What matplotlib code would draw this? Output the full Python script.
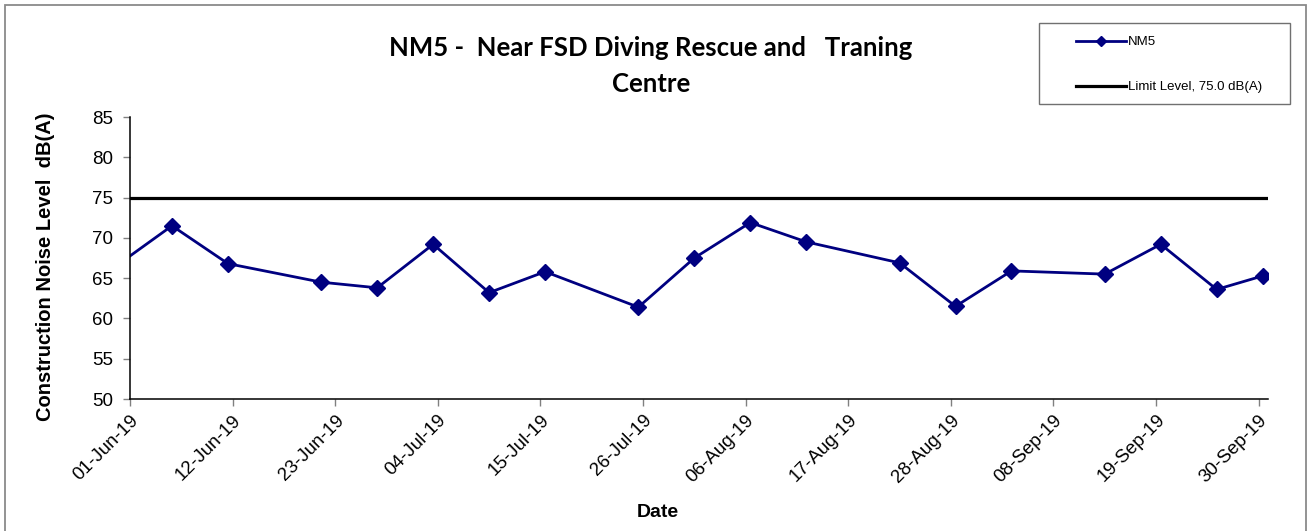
#!/usr/bin/env python3

import numpy as np
import matplotlib
matplotlib.use("Agg")
import matplotlib.pyplot as plt
import matplotlib.dates as mdates
from matplotlib.patches import Rectangle

# measurement times and levels for NM5 (first point is before the axis start)
dates = ["2019-05-30 12:00", "2019-06-05 12:00", "2019-06-11 12:00", "2019-06-21 12:00",
         "2019-06-27 12:00", "2019-07-03 12:00", "2019-07-09 12:00", "2019-07-15 12:00",
         "2019-07-25 12:00", "2019-07-31 12:00", "2019-08-06 12:00", "2019-08-12 12:00",
         "2019-08-22 12:00", "2019-08-28 12:00", "2019-09-03 12:00", "2019-09-13 12:00",
         "2019-09-19 12:00", "2019-09-25 12:00", "2019-09-30 12:00"]
nm5 = [66.5, 71.5, 66.8, 64.5, 63.8, 69.2, 63.2, 65.8, 61.4, 67.5, 71.9,
       69.5, 66.9, 61.5, 65.9, 65.5, 69.2, 63.6, 65.3]
limit_level = 75.0
tick_dates = ["2019-06-01", "2019-06-12", "2019-06-23", "2019-07-04", "2019-07-15",
              "2019-07-26", "2019-08-06", "2019-08-17", "2019-08-28", "2019-09-08",
              "2019-09-19", "2019-09-30"]
y_ticks = [50, 55, 60, 65, 70, 75, 80, 85]


def main():
    W, H = 1307, 531
    fig = plt.figure(figsize=(W / 100, H / 100), dpi=100)
    plt.rcParams['font.family'] = ['Liberation Sans', 'DejaVu Sans']

    # outer chart border
    fig.patches.append(Rectangle((4.5 / W, -0.05), (1306 - 4.5) / W, 1.05 - 5.5 / H,
                                 transform=fig.transFigure, fill=False,
                                 edgecolor='#8a8a8a', lw=1.3))

    ax = fig.add_axes([130 / W, 1 - 399 / H, (1268 - 130) / W, (399 - 117) / H])

    x = np.array(dates, dtype='datetime64[m]').astype('O')
    ax.plot(x, nm5, color='#000080', lw=2.0, marker='D', markersize=8.5, label='NM5')
    ax.axhline(limit_level, color='black', lw=2.3,
               label='Limit Level, %.1f dB(A)' % limit_level)

    format_plot(fig, ax, W, H)
    fig.savefig('out.png', dpi=100)


def format_plot(fig, ax, W, H):
    ax.set_xlim(np.datetime64('2019-06-01').astype('O'), np.datetime64('2019-10-01').astype('O'))
    ax.set_ylim(50, 85)
    ax.set_yticks(y_ticks)
    ax.set_xticks(np.array(tick_dates, dtype='datetime64[D]').astype('O'))
    ax.xaxis.set_major_formatter(mdates.DateFormatter('%d-%b-%y'))
    for lab in ax.get_xticklabels():
        lab.set_rotation(45)
        lab.set_ha('right')
        lab.set_rotation_mode('anchor')
    ax.tick_params(axis='both', labelsize=13.5, direction='out', length=5, width=1,
                   color='#808080', pad=4)
    ax.tick_params(axis='y', pad=7)
    ax.spines['top'].set_visible(False)
    ax.spines['right'].set_visible(False)
    ax.spines['left'].set_linewidth(1.1)
    ax.spines['bottom'].set_linewidth(1.1)

    ax.set_ylabel('Construction Noise Level  dB(A)', fontsize=14.5, fontweight='bold')
    ax.yaxis.set_label_coords((55 - 130) / (1268 - 130), 0.47)
    ax.set_xlabel('Date', fontsize=14, fontweight='bold')
    ax.xaxis.set_label_coords((658 - 130) / (1268 - 130), (399 - 504) / (399 - 117))

    fig.text(651 / W, 1 - 66 / H, 'NM5 -  Near FSD Diving Rescue and   Traning\nCentre',
             ha='center', va='center', fontsize=18.5, fontweight='bold',
             family=['Lato', 'DejaVu Sans'], linespacing=1.55)

    # legend with a separate frame
    fig.patches.append(Rectangle((1039 / W, 1 - 104 / H), (1290 - 1039) / W, (104 - 23) / H,
                                 transform=fig.transFigure, fill=False,
                                 edgecolor='#707070', lw=1.0))
    fig.legend(loc='upper left', bbox_to_anchor=(1076 / W, 1 - 36 / H), frameon=False,
               fontsize=9.5, handlelength=3.8, handletextpad=0.15, labelspacing=2.5,
               borderpad=0, borderaxespad=0, numpoints=1, markerscale=0.6)


if __name__ == "__main__":
    main()
